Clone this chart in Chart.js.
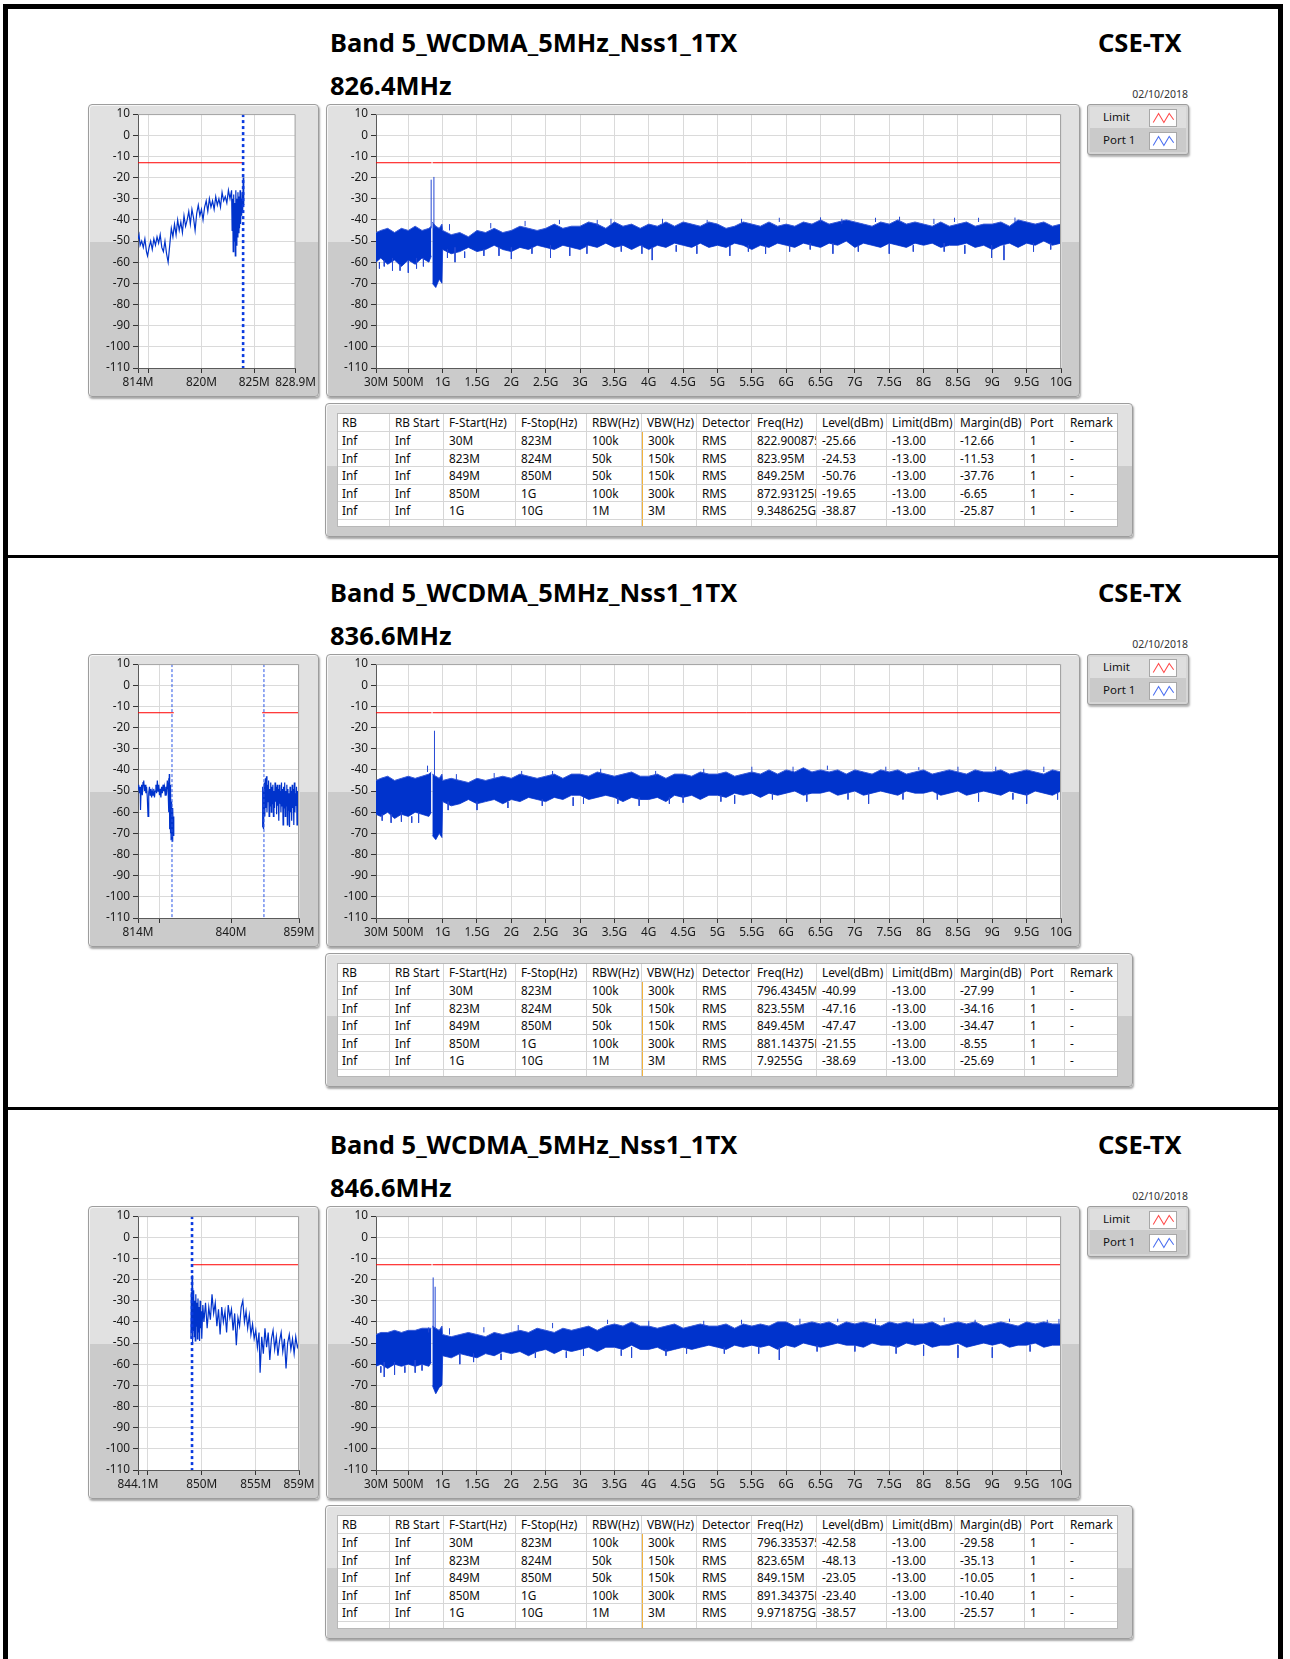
<!DOCTYPE html>
<html lang="en">
<head>
<meta charset="utf-8">
<title>Band 5_WCDMA_5MHz_Nss1_1TX · CSE-TX</title>
<script src="https://cdn.jsdelivr.net/npm/chart.js@4.4.1/dist/chart.umd.min.js"></script>
<style>
    html, body { margin: 0; padding: 0; background: #fff; overflow: hidden; }
    body { width: 1290px; height: 1659px; position: relative; font-family: 'Noto Sans', 'DejaVu Sans', sans-serif; }

    .frame   { position: absolute; left: 3px; top: 4px; width: 1270px; height: 1720px; border: 5px solid #000; border-bottom: none; }
    .divider { position: absolute; left: 3px; width: 1280px; height: 3px; background: #000; }

    .title { position: absolute; font-weight: 700; font-size: 25.5px; line-height: 30px; color: #000; white-space: nowrap; }
    .date  { position: absolute; font-size: 10.5px; line-height: 13px; color: #333; white-space: nowrap; text-align: right; width: 80px; }

    .panel {
        position: absolute; box-sizing: border-box;
        border: 1px solid #9d9d9d; border-radius: 4px;
        background: linear-gradient(#e1e1e1 0, #e1e1e1 47%, #cbcbcb 47%, #cbcbcb 100%);
        box-shadow: 1px 2px 2px rgba(0, 0, 0, .35), inset 1px 1px 0 #f6f6f6;
    }
    canvas { position: absolute; }

    .legend { position: absolute; width: 102px; height: 51px; box-sizing: border-box; border: 1px solid #9d9d9d; border-radius: 3px;
              background: #d6d6d6; box-shadow: 1px 2px 2px rgba(0, 0, 0, .3); }
    .lrow   { position: absolute; left: 2px; width: 96px; font-size: 11.5px; color: #111; }
    .lrow span { position: absolute; left: 13px; }
    .lrow svg  { position: absolute; left: 59px; background: #fff; border: 1px solid #a8a8a8; box-sizing: border-box; }

    .tbl-inner { position: absolute; background: #fff; overflow: hidden; border: 1px solid #b8b8b8; box-sizing: border-box; }
    .cell { position: absolute; box-sizing: border-box; border-right: 1px solid #d6d6d6; border-bottom: 1px solid #d6d6d6;
            padding-left: 5px; font-size: 11.8px; color: #0c0c0c; white-space: nowrap; overflow: hidden; }
    .cell.vbw { border-left: 1px solid #f2b33d; }
</style>
</head>
<body>
<div class="frame"></div>
<script>
/* ================================================================
   BAND 5 WCDMA · CSE-TX report · three channels
   ================================================================ */

// ── Header texts ─────────────────────────────────────────────
const TITLE       = 'Band 5_WCDMA_5MHz_Nss1_1TX';
const TEST_NAME   = 'CSE-TX';
const CHANNELS    = ['826.4MHz', '836.6MHz', '846.6MHz'];
const REPORT_DATE = '02/10/2018';
const LEGEND_NAMES = ['Limit', 'Port 1'];

// ── Y axis (dBm) ─────────────────────────────────────────────
const Y_TICKS = [10, 0, -10, -20, -30, -40, -50, -60, -70, -80, -90, -100, -110];

// ── Big chart x axis (GHz) ───────────────────────────────────
const BIG_TICKS  = [0.03, 0.5, 1, 1.5, 2, 2.5, 3, 3.5, 4, 4.5, 5, 5.5, 6, 6.5, 7, 7.5, 8, 8.5, 9, 9.5, 10];
const BIG_LABELS = ['30M', '500M', '1G', '1.5G', '2G', '2.5G', '3G', '3.5G', '4G', '4.5G', '5G', '5.5G', '6G', '6.5G', '7G', '7.5G', '8G', '8.5G', '9G', '9.5G', '10G'];
const BIG_LIMIT_FREQ  = [0.03, 0.838, 0.846, 0.854, 10];
const BIG_LIMIT_LEVEL = [-13, -13, null, -13, -13];

// noise band envelope, below and above the 0.85G gap
const LOW_FREQ  = [0.03, 0.1, 0.2, 0.3, 0.4, 0.5, 0.6, 0.7, 0.8, 0.835];
const MAIN_FREQ = [0.85, 0.9, 0.95, 0.99,
                   1.0, 1.125, 1.25, 1.375, 1.5, 1.625, 1.75, 1.875,
                   2.0, 2.125, 2.25, 2.375, 2.5, 2.625, 2.75, 2.875,
                   3.0, 3.125, 3.25, 3.375, 3.5, 3.625, 3.75, 3.875,
                   4.0, 4.125, 4.25, 4.375, 4.5, 4.625, 4.75, 4.875,
                   5.0, 5.125, 5.25, 5.375, 5.5, 5.625, 5.75, 5.875,
                   6.0, 6.125, 6.25, 6.375, 6.5, 6.625, 6.75, 6.875,
                   7.0, 7.125, 7.25, 7.375, 7.5, 7.625, 7.75, 7.875,
                   8.0, 8.125, 8.25, 8.375, 8.5, 8.625, 8.75, 8.875,
                   9.0, 9.125, 9.25, 9.375, 9.5, 9.625, 9.75, 9.875,
                   10.0];

const BIG1_LOW_HI  = [-46, -45, -44, -46, -44, -45, -43, -45, -44, -43];
const BIG1_LOW_LO  = [-60, -58, -61, -59, -62, -59, -61, -58, -60, -57];
const BIG1_MAIN_HI = [-41, -43, -44, -42,
                      -45, -47, -46, -48, -45, -46, -44, -46,
                      -45, -43, -44, -45, -44, -42, -44, -43,
                      -43, -41, -42, -44, -41, -43, -42, -44,
                      -42, -43, -41, -43, -41, -42, -43, -41,
                      -42, -44, -43, -41, -42, -43, -41, -43,
                      -42, -43, -41, -42, -40, -42, -41, -40,
                      -41, -42, -43, -41, -42, -40, -42, -41,
                      -42, -43, -41, -43, -42, -41, -43, -42,
                      -42, -41, -43, -40, -41, -42, -41, -43,
                      -42];
const BIG1_MAIN_LO = [-70, -72, -68, -70,
                      -54, -56, -55, -53, -55, -54, -52, -54,
                      -55, -53, -54, -52, -53, -54, -52, -53,
                      -54, -52, -53, -51, -53, -52, -54, -52,
                      -54, -52, -53, -51, -52, -53, -51, -53,
                      -52, -53, -51, -52, -54, -52, -53, -51,
                      -52, -53, -51, -52, -53, -51, -52, -50,
                      -53, -51, -52, -53, -51, -52, -53, -51,
                      -52, -51, -53, -52, -52, -51, -53, -52,
                      -54, -52, -51, -53, -51, -52, -50, -52,
                      -51];
const BIG1_SPIKE_FREQ = [0.08, 0.15, 0.27, 0.38, 0.5, 0.62, 0.72, 0.833, 0.873, 1.07, 1.1, 1.18, 1.32, 1.6, 1.7, 1.82,
                         2.0, 2.2, 2.3, 2.57, 2.7, 2.85, 3.1, 3.25, 3.45, 3.6, 3.9, 4.05, 4.2, 4.4, 4.7, 4.85,
                         5.18, 5.35, 5.45, 5.7, 5.9, 6.05, 6.35, 6.5, 6.68, 6.81, 7.05, 7.3, 7.5, 7.65, 7.85,
                         8.15, 8.3, 8.45, 8.6, 8.8, 8.99, 9.17, 9.33, 9.6, 9.85];
const BIG1_SPIKE_FROM = [-60, -59, -58, -61, -59, -58, -58, -44, -44, -54, -45, -53, -55, -54, -44, -53,
                         -53, -43, -53, -52, -42, -53, -52, -43, -42, -52, -52, -53, -42, -52, -52, -42,
                         -52, -42, -52, -52, -41, -52, -51, -41, -51, -42, -52, -41, -51, -41, -52,
                         -42, -51, -41, -52, -41, -52, -52, -41, -51, -51];
const BIG1_SPIKE_TO   = [-63, -62, -64, -64, -65, -63, -62, -21, -19.7, -58, -42, -60, -58, -57, -41.5, -57,
                         -58.5, -40.5, -56, -58, -40, -57, -56, -40, -39.5, -55, -56, -59, -39.5, -55, -56, -40,
                         -57, -39.5, -55, -56, -39, -55, -54, -38.8, -56, -39.5, -55, -39, -56, -38.5, -55,
                         -39.5, -55, -39, -56, -39, -58, -59, -38.9, -55, -54];

const BIG2_LOW_HI  = [-45, -44, -43, -45, -44, -43, -44, -43, -42, -41];
const BIG2_LOW_LO  = [-61, -62, -60, -63, -61, -62, -60, -61, -62, -60];
const BIG2_MAIN_HI = [-42, -43, -44, -42,
                      -45, -44, -45, -46, -44, -45, -44, -43,
                      -44, -42, -43, -44, -43, -42, -44, -42,
                      -42, -43, -41, -42, -43, -42, -41, -43,
                      -43, -42, -44, -42, -42, -43, -41, -42,
                      -42, -41, -43, -42, -41, -42, -40, -42,
                      -40, -41, -39, -41, -40, -41, -40, -42,
                      -40, -41, -42, -40, -41, -40, -42, -41,
                      -40, -42, -41, -40, -41, -42, -40, -41,
                      -41, -40, -42, -41, -40, -41, -42, -40,
                      -41];
const BIG2_MAIN_LO = [-71, -73, -70, -72,
                      -55, -57, -56, -54, -56, -55, -54, -56,
                      -54, -55, -53, -54, -55, -53, -54, -52,
                      -52, -54, -53, -52, -53, -55, -53, -54,
                      -54, -53, -55, -52, -53, -52, -54, -52,
                      -52, -53, -51, -52, -51, -53, -51, -52,
                      -51, -50, -52, -51, -51, -50, -52, -51,
                      -50, -52, -51, -50, -51, -52, -50, -51,
                      -51, -50, -52, -51, -50, -52, -51, -50,
                      -51, -52, -50, -51, -52, -50, -51, -52,
                      -50];
const BIG2_SPIKE_FREQ = [0.12, 0.25, 0.4, 0.55, 0.65, 0.78, 0.881, 1.08, 1.2, 1.5, 1.75, 1.95, 2.15, 2.45, 2.6, 2.9,
                         3.05, 3.3, 3.55, 3.86, 4.1, 4.3, 4.5, 4.8, 5.05, 5.25, 5.5, 5.8, 6.1, 6.3, 6.6, 6.9,
                         7.2, 7.45, 7.7, 7.93, 8.2, 8.5, 8.8, 9.05, 9.3, 9.5, 9.75, 9.95];
const BIG2_SPIKE_FROM = [-61, -61, -60, -62, -60, -41, -43, -55, -45, -55, -44, -55, -43, -54, -43, -53,
                         -53, -42, -53, -53, -43, -53, -52, -42, -52, -52, -41, -51, -41, -51, -40, -51,
                         -51, -41, -51, -40, -51, -41, -51, -41, -51, -51, -41, -51];
const BIG2_SPIKE_TO   = [-64, -65, -64.5, -65, -65, -38, -21.5, -59, -42, -59, -41.5, -58, -40.5, -57, -40.5, -57,
                         -56, -39.5, -56, -57, -40.5, -56, -55.5, -39.5, -55, -56, -38.5, -54, -38.5, -55, -38, -54,
                         -56, -38.5, -54, -38.7, -54, -38.5, -55, -38.5, -54, -56, -38.5, -54];

const BIG3_LOW_HI  = [-46, -45, -45, -44, -45, -44, -44, -43, -43, -43];
const BIG3_LOW_LO  = [-61, -60, -62, -60, -61, -60, -61, -60, -61, -59];
const BIG3_MAIN_HI = [-42, -43, -44, -42,
                      -46, -47, -46, -45, -46, -47, -45, -46,
                      -45, -44, -45, -43, -44, -45, -43, -44,
                      -43, -42, -44, -42, -41, -42, -40, -42,
                      -42, -43, -42, -41, -43, -42, -41, -42,
                      -42, -41, -43, -41, -42, -41, -42, -40,
                      -40, -42, -41, -40, -41, -40, -42, -40,
                      -41, -40, -41, -42, -40, -41, -40, -41,
                      -41, -40, -42, -41, -40, -41, -40, -42,
                      -41, -40, -41, -42, -40, -41, -40, -41,
                      -41];
const BIG3_MAIN_LO = [-70, -74, -71, -70,
                      -56, -57, -55, -56, -57, -55, -56, -54,
                      -55, -54, -56, -54, -53, -55, -53, -54,
                      -53, -52, -54, -52, -52, -53, -51, -53,
                      -53, -52, -54, -53, -52, -53, -52, -51,
                      -52, -53, -51, -52, -51, -52, -51, -53,
                      -51, -52, -50, -51, -52, -51, -50, -51,
                      -51, -52, -50, -51, -51, -52, -50, -51,
                      -50, -52, -51, -51, -50, -52, -51, -50,
                      -51, -50, -52, -51, -51, -50, -52, -51,
                      -51];
const BIG3_SPIKE_FREQ = [0.1, 0.15, 0.3, 0.45, 0.6, 0.7, 0.796, 0.862, 0.891, 1.1, 1.25, 1.45, 1.6, 1.85, 2.1, 2.35,
                         2.6, 2.8, 3.05, 3.4, 3.6, 3.75, 4.0, 4.25, 4.55, 4.8, 5.1, 5.35, 5.6, 5.9, 6.2, 6.45,
                         6.75, 7.0, 7.3, 7.6, 7.85, 8.0, 8.3, 8.5, 8.75, 9.0, 9.25, 9.55, 9.8, 9.97];
const BIG3_SPIKE_FROM = [-61, -59, -59, -61, -58, -60, -45, -43, -43, -46, -55, -55, -45, -55, -44, -54,
                         -43, -54, -53, -41, -53, -52, -42, -53, -52, -42, -52, -41, -52, -52, -41, -51,
                         -40, -51, -41, -51, -41, -51, -40, -51, -41, -52, -40, -51, -41, -41];
const BIG3_SPIKE_TO   = [-64, -66, -65, -64, -64, -63, -42.6, -19, -23.4, -43, -60, -59, -42.5, -58, -41.5, -57,
                         -40.5, -57, -56, -39, -56, -57, -39.5, -56, -55, -39.5, -55, -39, -55, -58, -38.5, -54,
                         -38.5, -54, -38.5, -55, -38.5, -56, -38, -57, -39, -57, -38.5, -54, -39, -38.6];

// ── Small (zoomed) charts, MHz ───────────────────────────────
const SMALL1_RANGE  = [814, 828.9];
const SMALL1_TICKS  = [814, 815, 820, 825, 828.9];
const SMALL1_LABELS = ['814M', '', '820M', '825M', '828.9M'];
const SMALL1_MARKERS = [823.94];
const SMALL1_LIMIT_FREQ  = [814, 823.94];
const SMALL1_LIMIT_LEVEL = [-13, -13];
const SMALL1_FREQ = [814.0, 814.1, 814.2, 814.35, 814.5, 814.65, 814.8, 814.9, 815.05, 815.2,
                     815.35, 815.5, 815.65, 815.8, 815.95, 816.1, 816.25, 816.4, 816.55, 816.7,
                     816.85, 817.0, 817.15, 817.3, 817.45, 817.6, 817.75, 817.9, 818.05, 818.2,
                     818.35, 818.5, 818.65, 818.8, 818.95, 819.1, 819.25, 819.4, 819.55, 819.7,
                     819.85, 820.0, 820.15, 820.3, 820.45, 820.6, 820.75, 820.9, 821.05, 821.2,
                     821.35, 821.5, 821.65, 821.8, 821.95, 822.1, 822.25, 822.4, 822.55, 822.7,
                     822.85, 822.9, 822.95, 823.0, 823.05, 823.1, 823.15, 823.2, 823.25, 823.3,
                     823.35, 823.4, 823.45, 823.5, 823.55, 823.6, 823.65, 823.7, 823.75, 823.8,
                     823.85, 823.9, 823.95, 824.0];
const SMALL1_LEVEL = [-49, -47, -52, -50, -53, -49, -55, -57, -53, -50,
                      -54, -49, -52, -48, -51, -47, -53, -55, -50, -56,
                      -60, -52, -44, -48, -42, -47, -40, -45, -41, -46,
                      -38, -43, -40, -36, -42, -35, -39, -45, -37, -33,
                      -38, -35, -40, -34, -31, -36, -30, -34, -31, -35,
                      -29, -33, -30, -34, -27, -31, -29, -32, -26, -30,
                      -26, -45, -30, -55, -28, -50, -32, -57, -26, -52,
                      -30, -48, -27, -46, -29, -44, -26, -42, -30, -38,
                      -27, -36, -20, -33];

const SMALL2_RANGE  = [814, 859];
const SMALL2_TICKS  = [814, 820, 840, 859];
const SMALL2_LABELS = ['814M', '', '840M', '859M'];
const SMALL2_MARKERS = [823.5, 849.2];
const SMALL2_LIMIT_FREQ  = [814, 824, 836, 848.7, 859];
const SMALL2_LIMIT_LEVEL = [-13, -13, null, -13, -13];
const SMALL2A_FREQ = [814.0, 814.2, 814.4, 814.6, 814.7, 814.85, 815.0, 815.2, 815.4, 815.6,
                      815.8, 816.0, 816.2, 816.4, 816.6, 816.8, 817.0, 817.2, 817.4, 817.6,
                      817.8, 818.0, 818.2, 818.4, 818.6, 818.8, 819.0, 819.2, 819.4, 819.6,
                      819.8, 820.0, 820.2, 820.4, 820.6, 820.8, 821.0, 821.2, 821.4, 821.6,
                      821.8, 822.0, 822.2, 822.4, 822.55, 822.65, 822.75, 822.85, 822.95, 823.05,
                      823.15, 823.25, 823.35, 823.45, 823.55, 823.65, 823.75, 823.85, 823.95, 824.05];
const SMALL2A_LEVEL = [-49, -47, -51, -48, -59, -50, -47, -52, -46, -45,
                       -50, -47, -51, -48, -53, -62, -51, -48, -52, -49,
                       -53, -50, -52, -49, -53, -50, -47, -51, -45, -50,
                       -47, -52, -49, -53, -48, -51, -47, -50, -48, -52,
                       -48, -50, -45, -49, -44, -60, -42, -68, -47, -70,
                       -50, -73, -55, -72, -60, -74, -58, -71, -62, -70];
const SMALL2B_FREQ = [848.75, 848.85, 848.95, 849.05, 849.15, 849.3, 849.45, 849.6, 849.75, 849.9,
                      850.05, 850.2, 850.35, 850.5, 850.65, 850.8, 850.95, 851.1, 851.25, 851.4,
                      851.55, 851.7, 851.85, 852.0, 852.15, 852.3, 852.45, 852.6, 852.75, 852.9,
                      853.05, 853.2, 853.35, 853.5, 853.65, 853.8, 853.95, 854.1, 854.25, 854.4,
                      854.55, 854.7, 854.85, 855.0, 855.15, 855.3, 855.45, 855.6, 855.75, 855.9,
                      856.05, 856.2, 856.35, 856.5, 856.65, 856.8, 856.95, 857.1, 857.25, 857.4,
                      857.55, 857.7, 857.85, 858.0, 858.15, 858.3, 858.45, 858.6, 858.75, 858.9,
                      859.0];
const SMALL2B_LEVEL = [-67, -48, -66, -50, -68, -46, -62, -44, -58, -43,
                       -60, -47, -55, -45, -62, -49, -57, -46, -60, -48,
                       -56, -47, -62, -50, -58, -46, -55, -48, -61, -47,
                       -57, -49, -64, -47, -56, -50, -60, -46, -57, -49,
                       -66, -48, -58, -46, -62, -50, -57, -47, -66, -49,
                       -59, -51, -67, -48, -60, -50, -64, -47, -58, -49,
                       -66, -46, -60, -51, -57, -48, -66, -50, -59, -47,
                       -55];

const SMALL3_RANGE  = [844.1, 859];
const SMALL3_TICKS  = [844.1, 845, 850, 855, 859];
const SMALL3_LABELS = ['844.1M', '', '850M', '855M', '859M'];
const SMALL3_MARKERS = [849.1];
const SMALL3_LIMIT_FREQ  = [849.0, 859];
const SMALL3_LIMIT_LEVEL = [-13, -13];
const SMALL3_FREQ = [849.0, 849.03, 849.07, 849.1, 849.13, 849.17, 849.2, 849.25, 849.3, 849.35,
                     849.4, 849.45, 849.5, 849.55, 849.6, 849.65, 849.7, 849.75, 849.8, 849.85,
                     849.9, 849.95, 850.0, 850.1, 850.2, 850.35, 850.5, 850.65, 850.8, 850.95,
                     851.1, 851.25, 851.4, 851.55, 851.7, 851.85, 852.0, 852.15, 852.3, 852.45,
                     852.6, 852.75, 852.9, 853.05, 853.2, 853.35, 853.5, 853.65, 853.8, 853.95,
                     854.1, 854.25, 854.4, 854.55, 854.7, 854.85, 855.0, 855.15, 855.3, 855.4,
                     855.55, 855.7, 855.85, 856.0, 856.15, 856.3, 856.45, 856.6, 856.75, 856.9,
                     857.05, 857.2, 857.35, 857.5, 857.65, 857.8, 857.95, 858.1, 858.25, 858.4,
                     858.55, 858.7, 858.85, 859.0];
const SMALL3_LEVEL = [-48, -26, -45, -18, -50, -28, -44, -25, -47, -30,
                      -49, -27, -42, -31, -48, -29, -45, -33, -49, -30,
                      -43, -35, -48, -32, -40, -31, -43, -33, -39, -27,
                      -36, -31, -42, -34, -46, -33, -40, -35, -45, -32,
                      -38, -34, -44, -36, -51, -38, -42, -33, -30, -40,
                      -35, -43, -37, -46, -41, -48, -44, -52, -45, -64,
                      -47, -55, -43, -52, -45, -58, -48, -44, -53, -47,
                      -56, -49, -45, -54, -48, -62, -50, -46, -53, -48,
                      -55, -47, -52, -50];

// ── Result tables ────────────────────────────────────────────
const TABLE_HEAD    = ['RB', 'RB Start', 'F-Start(Hz)', 'F-Stop(Hz)', 'RBW(Hz)', 'VBW(Hz)', 'Detector', 'Freq(Hz)', 'Level(dBm)', 'Limit(dBm)', 'Margin(dB)', 'Port', 'Remark'];
const TABLE_F_START = ['30M', '823M', '849M', '850M', '1G'];
const TABLE_F_STOP  = ['823M', '824M', '850M', '1G', '10G'];
const TABLE_RBW     = ['100k', '50k', '50k', '100k', '1M'];
const TABLE_VBW     = ['300k', '150k', '150k', '300k', '3M'];
const TABLE_LIMIT   = ['-13.00', '-13.00', '-13.00', '-13.00', '-13.00'];
const TABLE1_FREQ   = ['822.900875M', '823.95M', '849.25M', '872.93125M', '9.348625G'];
const TABLE1_LEVEL  = ['-25.66', '-24.53', '-50.76', '-19.65', '-38.87'];
const TABLE1_MARGIN = ['-12.66', '-11.53', '-37.76', '-6.65', '-25.87'];
const TABLE2_FREQ   = ['796.4345M', '823.55M', '849.45M', '881.14375M', '7.9255G'];
const TABLE2_LEVEL  = ['-40.99', '-47.16', '-47.47', '-21.55', '-38.69'];
const TABLE2_MARGIN = ['-27.99', '-34.16', '-34.47', '-8.55', '-25.69'];
const TABLE3_FREQ   = ['796.335375M', '823.65M', '849.15M', '891.34375M', '9.971875G'];
const TABLE3_LEVEL  = ['-42.58', '-48.13', '-23.05', '-23.40', '-38.57'];
const TABLE3_MARGIN = ['-29.58', '-35.13', '-10.05', '-10.40', '-25.57'];

/* ============================================================
   LAYOUT
   ============================================================ */
const SECTION_OFFSETS = [0, 550, 1102];
const COL_WIDTHS = [53, 54, 72, 71, 55, 55, 55, 65, 70, 68, 70, 40, 53];
const TRACE_BLUE = '#0033cc';

Chart.defaults.font.family = "'Noto Sans', 'DejaVu Sans', sans-serif";
Chart.defaults.color = '#1a1a1a';

const sections = [
    { small: { range: SMALL1_RANGE, ticks: SMALL1_TICKS, labels: SMALL1_LABELS, markers: SMALL1_MARKERS, thickMarker: true,
               limit: [SMALL1_LIMIT_FREQ, SMALL1_LIMIT_LEVEL], traces: [[SMALL1_FREQ, SMALL1_LEVEL]] },
      big: { low: [BIG1_LOW_HI, BIG1_LOW_LO], main: [BIG1_MAIN_HI, BIG1_MAIN_LO], spikes: [BIG1_SPIKE_FREQ, BIG1_SPIKE_FROM, BIG1_SPIKE_TO] },
      table: [TABLE1_FREQ, TABLE1_LEVEL, TABLE1_MARGIN] },
    { small: { range: SMALL2_RANGE, ticks: SMALL2_TICKS, labels: SMALL2_LABELS, markers: SMALL2_MARKERS, thickMarker: false,
               limit: [SMALL2_LIMIT_FREQ, SMALL2_LIMIT_LEVEL], traces: [[SMALL2A_FREQ, SMALL2A_LEVEL], [SMALL2B_FREQ, SMALL2B_LEVEL]] },
      big: { low: [BIG2_LOW_HI, BIG2_LOW_LO], main: [BIG2_MAIN_HI, BIG2_MAIN_LO], spikes: [BIG2_SPIKE_FREQ, BIG2_SPIKE_FROM, BIG2_SPIKE_TO] },
      table: [TABLE2_FREQ, TABLE2_LEVEL, TABLE2_MARGIN] },
    { small: { range: SMALL3_RANGE, ticks: SMALL3_TICKS, labels: SMALL3_LABELS, markers: SMALL3_MARKERS, thickMarker: true,
               limit: [SMALL3_LIMIT_FREQ, SMALL3_LIMIT_LEVEL], traces: [[SMALL3_FREQ, SMALL3_LEVEL]] },
      big: { low: [BIG3_LOW_HI, BIG3_LOW_LO], main: [BIG3_MAIN_HI, BIG3_MAIN_LO], spikes: [BIG3_SPIKE_FREQ, BIG3_SPIKE_FROM, BIG3_SPIKE_TO] },
      table: [TABLE3_FREQ, TABLE3_LEVEL, TABLE3_MARGIN] }
];

/* ============================================================
   HELPERS
   ============================================================ */
function el(tag, cls, css, text) {
    const e = document.createElement(tag);
    if (cls) e.className = cls;
    if (css) Object.assign(e.style, css);
    if (text !== undefined) e.textContent = text;
    document.body.appendChild(e);
    return e;
}

function pts(xs, ys) {
    return xs.map((x, i) => ({ x, y: ys[i] }));
}

// vertical segments separated by gaps
function segs(xs, from, to) {
    const out = [];
    xs.forEach((x, i) => out.push({ x, y: from[i] }, { x, y: to[i] }, { x, y: null }));
    return out;
}

// white plot area + light frame, like the instrument graph
const plotFrame = {
    id: 'plotFrame',
    beforeDraw(chart) {
        const { ctx, chartArea: a } = chart;
        ctx.save();
        ctx.fillStyle = '#fff';
        ctx.fillRect(a.left, a.top, a.width, a.height);
        ctx.restore();
    },
    afterDraw(chart) {
        const { ctx, chartArea: a } = chart;
        ctx.save();
        ctx.strokeStyle = '#a4a4a4';
        ctx.lineWidth = 1;
        ctx.beginPath();
        ctx.moveTo(a.left, a.top + 0.5);
        ctx.lineTo(a.right - 0.5, a.top + 0.5);
        ctx.lineTo(a.right - 0.5, a.bottom);
        ctx.stroke();
        ctx.restore();
    }
};

function scaleOptions(range, ticks, labels) {
    const tickFont = { size: 11.8 };
    return {
        x: {
            type: 'linear', min: range[0], max: range[1],
            afterBuildTicks: ax => { ax.ticks = ticks.map(v => ({ value: v })); },
            afterFit: ax => { ax.height = 29; },
            grid: { color: '#dadada', tickColor: '#333', tickLength: 5 },
            border: { color: '#5a5a5a' },
            ticks: { autoSkip: false, maxRotation: 0, padding: 3, font: tickFont,
                     callback: (v, i) => labels[i] }
        },
        y: {
            min: -110, max: 10,
            afterBuildTicks: ax => { ax.ticks = Y_TICKS.map(v => ({ value: v })); },
            afterFit: ax => { ax.width = 50; },
            grid: { color: '#dadada', tickColor: '#333', tickLength: 5 },
            border: { color: '#5a5a5a' },
            ticks: { padding: 3, font: tickFont, callback: v => String(v) }
        }
    };
}

function makeChart(left, top, width, height, rightPad, datasets, scales) {
    const cv = el('canvas', null, { left: left + 'px', top: top + 'px', width: width + 'px', height: height + 'px' });
    cv.width = width;
    cv.height = height;
    return new Chart(cv, {
        type: 'line',
        data: { datasets },
        options: {
            animation: false, responsive: false, events: [],
            layout: { padding: { top: 9, right: rightPad, left: 0, bottom: 0 } },
            plugins: { legend: { display: false }, tooltip: { enabled: false } },
            elements: { point: { radius: 0 }, line: { tension: 0 } },
            scales
        },
        plugins: [plotFrame]
    });
}

function legendSwatch(color, top) {
    return `<svg style="top:${top}px" width="28" height="18" viewBox="0 0 28 18"><polyline points="3,14 9,4 15,14 21,4 26,11" fill="none" stroke="${color}" stroke-width="1.2"/></svg>`;
}

/* ============================================================
   SECTION BUILDER
   ============================================================ */
function buildSection(s, i) {
    const off = SECTION_OFFSETS[i];

    // header
    el('div', 'title', { left: '330px', top: (27 + off) + 'px' }, TITLE);
    el('div', 'title', { left: '1098px', top: (27 + off) + 'px' }, TEST_NAME);
    el('div', 'title', { left: '330px', top: (70 + off) + 'px' }, CHANNELS[i]);
    el('div', 'date', { left: '1108px', top: (88 + off) + 'px' }, REPORT_DATE);

    // legend
    const lg = el('div', 'legend', { left: '1087px', top: (104 + off) + 'px' });
    const r1 = document.createElement('div');
    r1.className = 'lrow';
    Object.assign(r1.style, { top: '2px', height: '21px', background: '#dedede' });
    r1.innerHTML = `<span style="top:2px">${LEGEND_NAMES[0]}</span>` + legendSwatch('#ff4a4a', 2);
    const r2 = document.createElement('div');
    r2.className = 'lrow';
    Object.assign(r2.style, { top: '23px', height: '24px', background: '#cacaca' });
    r2.innerHTML = `<span style="top:4px">${LEGEND_NAMES[1]}</span>` + legendSwatch('#4a6ef0', 4);
    lg.appendChild(r1);
    lg.appendChild(r2);

    // panels
    el('div', 'panel', { left: '88px', top: (104 + off) + 'px', width: '231px', height: '293px' });
    el('div', 'panel', { left: '326px', top: (104 + off) + 'px', width: '754px', height: '293px' });
    el('div', 'panel', { left: '325px', top: (403 + off) + 'px', width: '808px', height: '134px' });

    // zoomed chart
    const sm = s.small;
    const smallSets = [];
    sm.markers.forEach(m => smallSets.push({
        data: pts([m, m], [10, -110]), borderColor: sm.thickMarker ? '#0a3be0' : '#2a55e6',
        borderWidth: sm.thickMarker ? 2.6 : 1, borderDash: sm.thickMarker ? [3, 3] : [3, 2], order: 0
    }));
    smallSets.push({ data: pts(sm.limit[0], sm.limit[1]), borderColor: '#ff0000', borderWidth: 1, spanGaps: false, order: 1 });
    sm.traces.forEach(t => smallSets.push({ data: pts(t[0], t[1]), borderColor: TRACE_BLUE, borderWidth: 1.2, order: 2 }));
    makeChart(88, 104 + off, 231, 293, 20, smallSets, scaleOptions(sm.range, sm.ticks, sm.labels));

    // full span chart
    const bg = s.big;
    const bigSets = [
        { data: pts(BIG_LIMIT_FREQ, BIG_LIMIT_LEVEL), borderColor: '#ff0000', borderWidth: 1, spanGaps: false, order: 0 },
        { data: segs(bg.spikes[0], bg.spikes[1], bg.spikes[2]), borderColor: '#2448d4', borderWidth: 1, spanGaps: false, order: 1 },
        { data: pts(MAIN_FREQ, bg.main[0]), borderColor: '#3a5cd8', borderWidth: 1, backgroundColor: TRACE_BLUE, fill: '+1', order: 2 },
        { data: pts(MAIN_FREQ, bg.main[1]), borderColor: '#3a5cd8', borderWidth: 1, order: 3 },
        { data: pts(LOW_FREQ, bg.low[0]), borderColor: '#3a5cd8', borderWidth: 1, backgroundColor: TRACE_BLUE, fill: '+1', order: 4 },
        { data: pts(LOW_FREQ, bg.low[1]), borderColor: '#3a5cd8', borderWidth: 1, order: 5 }
    ];
    makeChart(326, 104 + off, 754, 293, 19, bigSets, scaleOptions([0.03, 10], BIG_TICKS, BIG_LABELS));

    // table
    const tb = el('div', 'tbl-inner', { left: '337px', top: (413 + off) + 'px', width: '781px', height: '114px' });
    const rows = [TABLE_HEAD];
    for (let r = 0; r < 5; r++) {
        rows.push(['Inf', 'Inf', TABLE_F_START[r], TABLE_F_STOP[r], TABLE_RBW[r], TABLE_VBW[r], 'RMS',
                   s.table[0][r], s.table[1][r], TABLE_LIMIT[r], s.table[2][r], '1', '-']);
    }
    rows.push(TABLE_HEAD.map(() => ''));
    let y = -1;
    rows.forEach((row, r) => {
        const h = r === 0 ? 19 : 17.5;
        let x = -1;
        row.forEach((txt, c) => {
            const d = document.createElement('div');
            d.className = 'cell' + (c === 5 && r > 0 ? ' vbw' : '');
            Object.assign(d.style, { left: x + 'px', top: y + 'px', width: COL_WIDTHS[c] + 'px', height: h + 'px', lineHeight: (h - 1) + 'px' });
            d.textContent = txt;
            tb.appendChild(d);
            x += COL_WIDTHS[c];
        });
        y += h;
    });
}

// dividers between channels
el('div', 'divider', { top: '555px' });
el('div', 'divider', { top: '1107px' });

sections.forEach(buildSection);
</script>
</body>
</html>
